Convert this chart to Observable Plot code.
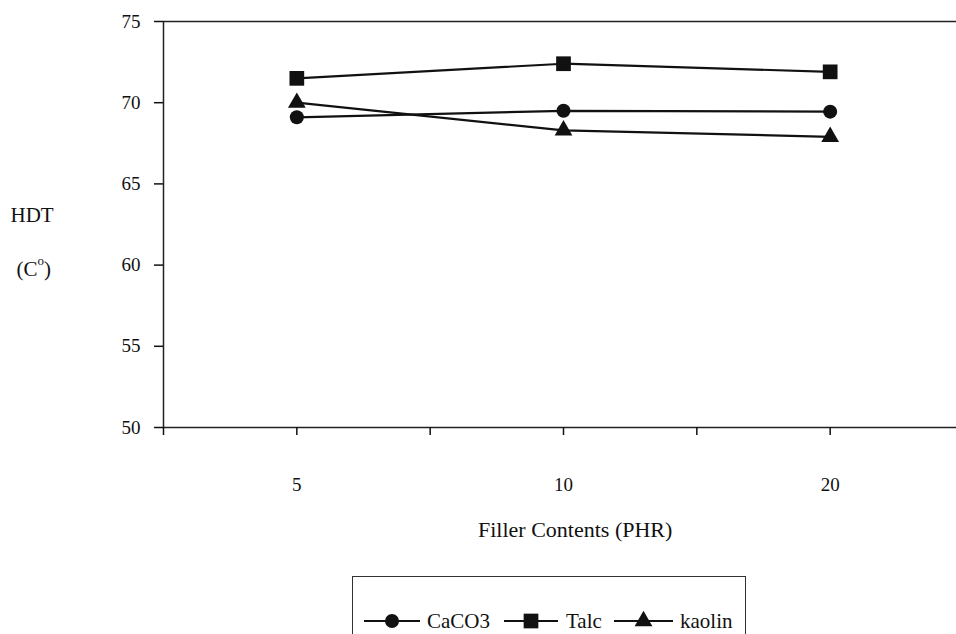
<!DOCTYPE html>
<html>
<head>
<meta charset="utf-8">
<script src="https://cdn.jsdelivr.net/npm/d3@7"></script>
<script src="https://cdn.jsdelivr.net/npm/@observablehq/plot@0.6"></script>
<style>
  html, body { margin: 0; padding: 0; background: #fff; }
  #wrap { position: relative; width: 956px; height: 634px; overflow: hidden; font-family: "Liberation Serif", "Times New Roman", "DejaVu Serif", serif; color: #111; }
  #wrap svg text { font-family: "Liberation Serif", "Times New Roman", "DejaVu Serif", serif !important; font-size: 19px !important; fill: #111; }
  .lbl { position: absolute; white-space: nowrap; font-size: 21px; line-height: 1; font-family: "Liberation Serif", "Times New Roman", serif; }
  #legend { position: absolute; left: 352px; top: 576px; width: 394px; height: 90px; border: 1.5px solid #333; box-sizing: border-box; }
</style>
</head>
<body>
<div id="wrap"></div>
<script>
// ---- data ----
const categories = ["5", "10", "20"];
const seriesNames = ["CaCO3", "Talc", "kaolin"];
const caco3 = [69.1, 69.5, 69.45];
const talc = [71.5, 72.4, 71.9];
const kaolin = [70.0, 68.3, 67.9];
const yTicks = [50, 55, 60, 65, 70, 75];
const xTitle = "Filler Contents (PHR)";
const yTitle1 = "HDT";

const seriesValues = [caco3, talc, kaolin];
const symbols = ["circle", "square", "triangle"];
const radii = [7, 8.3, 6.6];

const rows = [];
seriesNames.forEach((s, si) => {
  categories.forEach((c, i) => rows.push({series: s, cat: c, pos: i + 0.5, value: seriesValues[si][i]}));
});
const xTicks = d3.range(0, categories.length + 0.25, 0.5);

const wrap = document.getElementById("wrap");
const serif = "Liberation Serif";

const chart = Plot.plot({
  width: 956,
  height: 560,
  marginLeft: 163,
  marginRight: -7,
  marginTop: 21,
  marginBottom: 133,
  style: {fontFamily: serif, fontSize: "19px", color: "#111", background: "white", overflow: "hidden"},
  x: {domain: [0, categories.length]},
  y: {domain: [50, 75]},
  marks: [
    Plot.frame({stroke: "#222", strokeWidth: 1.5}),
    Plot.axisY({ticks: yTicks, tickSize: 9, tickPadding: 14, label: null, strokeWidth: 1.5, fontFamily: serif, fontSize: 19}),
    Plot.axisX({ticks: xTicks, tickSize: 8, tickPadding: 42, label: null, strokeWidth: 1.5, fontFamily: serif, fontSize: 19,
      tickFormat: d => (Math.abs(d % 1 - 0.5) < 1e-9 ? categories[Math.floor(d)] : "")}),
    Plot.line(rows, {x: "pos", y: "value", z: "series", stroke: "#111", strokeWidth: 2.2}),
    ...seriesNames.map((s, si) =>
      Plot.dot(rows.filter(r => r.series === s), {x: "pos", y: "value", symbol: () => symbols[si], fill: "#111", stroke: "none", r: radii[si]})
    )
  ],
  symbol: {type: "identity"}
});
chart.style.position = "absolute";
chart.style.left = "0px";
chart.style.top = "0px";
wrap.appendChild(chart);

// axis titles
function addLabel(text, cx, cy, html, size) {
  const d = document.createElement("div");
  d.className = "lbl";
  if (size) d.style.fontSize = size + "px";
  if (html) d.innerHTML = text; else d.textContent = text;
  wrap.appendChild(d);
  const w = d.offsetWidth, h = d.offsetHeight;
  d.style.left = (cx - w / 2) + "px";
  d.style.top = (cy - h / 2) + "px";
  return d;
}
addLabel(xTitle, 575, 530, false, 22);
addLabel(yTitle1, 32, 215);
addLabel("(C<sup style=\"font-size:13px;position:relative;top:-3px\">o</sup>)", 34, 268, true);

// legend
const legend = document.createElement("div");
legend.id = "legend";
wrap.appendChild(legend);
const legendItems = [
  {lineX: 364, lineW: 56, textX: 427},
  {lineX: 504, lineW: 54, textX: 566},
  {lineX: 614, lineW: 59, textX: 680}
];
const legendY = 621;
seriesNames.forEach((s, si) => {
  const it = legendItems[si];
  const svg = d3.create("svg").attr("width", it.lineW).attr("height", 24)
    .style("position", "absolute").style("left", it.lineX + "px").style("top", (legendY - 12) + "px");
  svg.append("line").attr("x1", 0).attr("x2", it.lineW).attr("y1", 12).attr("y2", 12).attr("stroke", "#111").attr("stroke-width", 2.2);
  const sym = [d3.symbolCircle, d3.symbolSquare, d3.symbolTriangle][si];
  svg.append("path").attr("transform", `translate(${it.lineW / 2},12)`)
    .attr("d", d3.symbol(sym, Math.PI * radii[si] * radii[si])()).attr("fill", "#111");
  wrap.appendChild(svg.node());
  const t = document.createElement("div");
  t.className = "lbl";
  t.textContent = s;
  wrap.appendChild(t);
  t.style.left = it.textX + "px";
  t.style.top = (legendY - t.offsetHeight / 2) + "px";
});
</script>
</body>
</html>
